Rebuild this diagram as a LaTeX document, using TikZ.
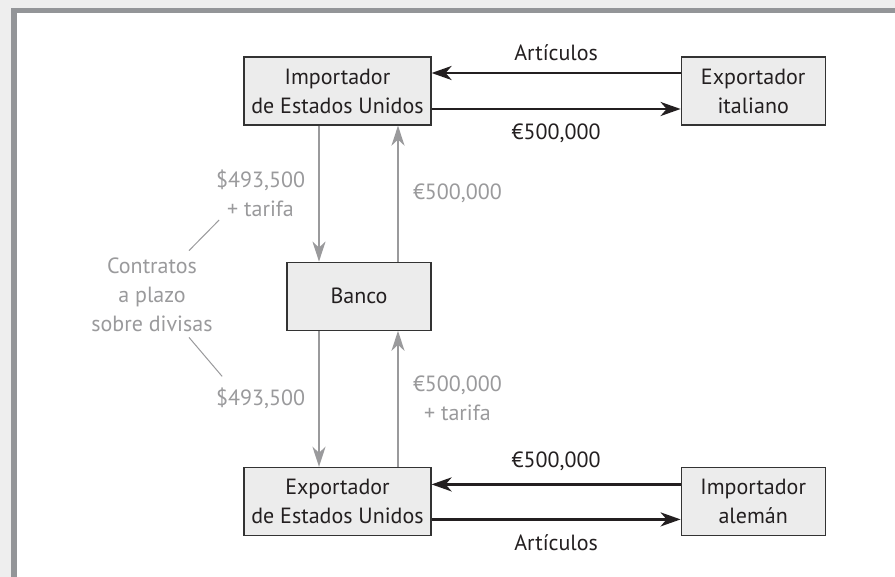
\documentclass[tikz,border=0pt]{standalone}
\usepackage{fontspec}
\setmainfont{PT Sans}
\usepackage{xcolor}
\usepackage{tikz}
\usetikzlibrary{positioning,arrows.meta}
\definecolor{ink}{HTML}{231F20}
\definecolor{boxfill}{HTML}{ECECEC}
\definecolor{boxline}{HTML}{333333}
\definecolor{softgray}{HTML}{9A9A9C}
\definecolor{framegray}{HTML}{939598}
\definecolor{outside}{HTML}{EEEEEE}

\begin{document}
\begin{tikzpicture}[
    x=0.5pt, y=-0.5pt,
    node distance=68pt and 124.5pt,
    box/.style={draw=boxline, fill=boxfill, line width=0.6pt, minimum height=34pt, text=ink, align=center, font=\fontsize{11}{14.5}\selectfont},
    wide/.style={box, minimum width=93.5pt},
    narrow/.style={box, minimum width=72pt},
    flow/.style={-{Stealth[length=10pt, width=7pt, inset=3pt]}, line width=1.3pt, draw=ink},
    money/.style={-{Stealth[length=10pt, width=6.5pt, inset=3pt]}, line width=1pt, draw=softgray},
    note/.style={text=softgray, align=center, inner sep=0pt, font=\fontsize{11}{14.5}\selectfont},
    tag/.style={text=ink, inner sep=0pt, font=\fontsize{11}{14.5}\selectfont},
    leader/.style={draw=softgray, line width=0.5pt}
]
% Frame
\useasboundingbox (0,0) rectangle (895,577);
\fill[outside] (0,0) rectangle (895,577);
\fill[white] (14,10.5) rectangle (895,577);
\draw[framegray, line width=2.6pt] (14,580) -- (14,10.5) -- (900,10.5);

% Trade boxes
\node[wide] (usimp) at (337.5,91) {Importador\\de Estados Unidos};
\node[narrow, right=of usimp] (italiano) {Exportador\\italiano};
\node[narrow, below=68pt of usimp.south east, anchor=north east] (banco) {Banco};
\node[wide, below=68pt of banco.south east, anchor=north east] (usexp) {Exportador\\de Estados Unidos};
\node[narrow, right=of usexp] (aleman) {Importador\\alemán};

% Goods and payments
\draw[flow] ([yshift=9pt]italiano.west) -- node[tag, above=5.5pt] (art1) {Artículos} ([yshift=9pt]usimp.east);
\draw[flow] ([yshift=-9pt]usimp.east) -- node[tag, below=7pt] (eur1) {€500,000} ([yshift=-9pt]italiano.west);
\draw[flow] ([yshift=8.5pt]aleman.west) -- node[tag, above=6pt] (eur2) {€500,000} ([yshift=8.5pt]usexp.east);
\draw[flow] ([yshift=-9pt]usexp.east) -- node[tag, below=7pt] (art2) {Artículos} ([yshift=-9pt]aleman.west);

% Forward contracts with the bank
\draw[money] ([xshift=-20pt]banco.north |- usimp.south) -- node[note, left=6.5pt] (pago1) {\$493,500\\+ tarifa} ([xshift=-20pt]banco.north);
\draw[money] ([xshift=19.5pt]banco.north) -- node[note, right=7pt] (cobro1) {€500,000} ([xshift=19.5pt]banco.north |- usimp.south);
\draw[money] ([xshift=-20pt]banco.south) -- node[note, left=6.5pt] (pago2) {\$493,500} ([xshift=-20pt]banco.south |- usexp.north);
\draw[money] ([xshift=19.5pt]banco.south |- usexp.north) -- node[note, right=7pt] (cobro2) {€500,000\\+ tarifa} ([xshift=19.5pt]banco.south);

% Callout
\node[note] (contratos) at (152,295) {Contratos\\a plazo\\sobre divisas};
\draw[leader] ([shift={(-24,-7)}]contratos.north east) -- ([shift={(4,2)}]pago1.south west);
\draw[leader] ([shift={(-24,5)}]contratos.south east) -- ([shift={(7,-11)}]pago2.north west);
\end{tikzpicture}
\end{document}
